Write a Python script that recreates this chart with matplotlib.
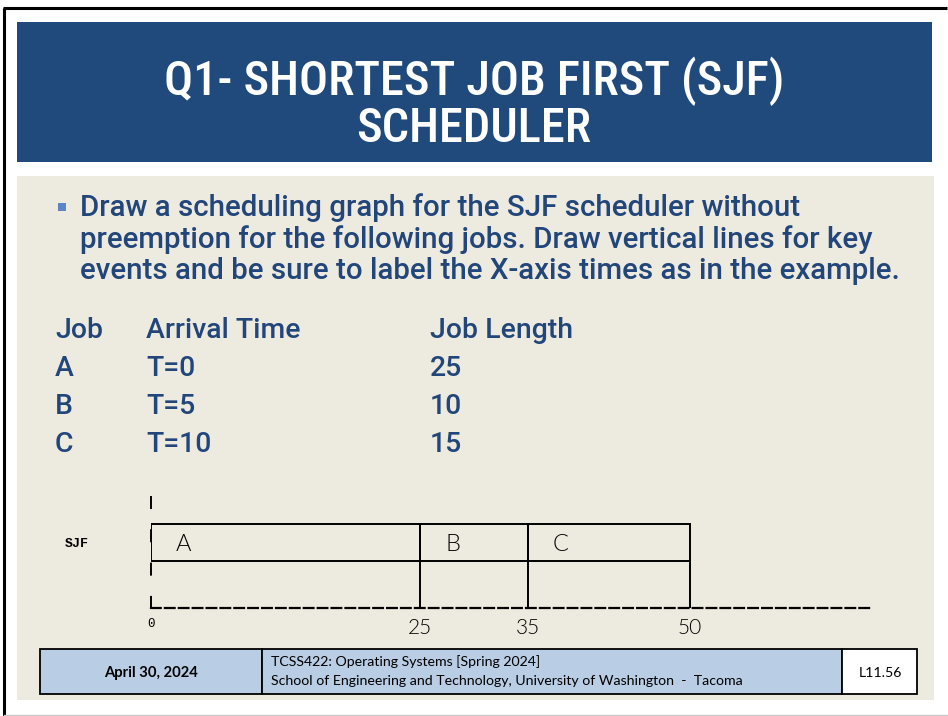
import matplotlib
matplotlib.use("Agg")
import matplotlib.pyplot as plt
from matplotlib import font_manager as fm
from matplotlib.patches import Rectangle
from matplotlib.lines import Line2D

plt.rcParams["lines.scale_dashes"] = False

# ---------------- data ----------------
title_lines = ["Q1- SHORTEST JOB FIRST (SJF)", "SCHEDULER"]
bullet_lines = [
    "Draw a scheduling graph for the SJF scheduler without",
    "preemption for the following jobs. Draw vertical lines for key",
    "events and be sure to label the X-axis times as in the example.",
]
table_header = ["Job", "Arrival Time", "Job Length"]
jobs = ["A", "B", "C"]
arrival_labels = ["T=0", "T=5", "T=10"]
job_lengths = [25, 10, 15]

sched_jobs = ["A", "B", "C"]
sched_start = [0, 25, 35]
sched_len = [25, 10, 15]
event_times = [25, 35, 50]
xtick_vals = [0, 25, 35, 50]
xtick_labels = ["0", "25", "35", "50"]
row_label = "SJF"

footer_date = "April 30, 2024"
footer_course = ["TCSS422: Operating Systems [Spring 2024]",
                 "School of Engineering and Technology, University of Washington  -  Tacoma"]
footer_slide = "L11.56"

# ---------------- styling ----------------
W, H = 948, 716
BLUE = "#214A7C"
TEXT_BLUE = "#22467A"
BEIGE = "#EDEAE0"
FOOT_BLUE = "#B9CDE5"

WNUM = {"thin": 100, "extralight": 200, "ultralight": 200, "light": 300, "normal": 400,
        "regular": 400, "book": 400, "medium": 500, "semibold": 600, "demibold": 600,
        "bold": 700, "extrabold": 800, "heavy": 900, "black": 900}


def wnum(w):
    if isinstance(w, (int, float)):
        return w
    return WNUM.get(str(w).lower(), 400)


def find_font(names, weight=400, stretches=None, tol=60):
    for name in names:
        best, bestd = None, None
        for f in fm.fontManager.ttflist:
            if f.name != name or f.style != "normal":
                continue
            if stretches is not None and f.stretch not in stretches:
                continue
            d = abs(wnum(f.weight) - weight)
            if bestd is None or d < bestd:
                best, bestd = f.fname, d
        if best is not None and bestd <= tol:
            return best
    return None


title_font = (find_font(["Roboto Condensed", "Liberation Sans Narrow", "Open Sans Condensed",
                         "Noto Sans Condensed"], weight=500, tol=120)
              or find_font(["DejaVu Sans"], weight=400, stretches=["condensed", "semi-condensed"])
              or find_font(["Roboto", "Liberation Sans"], weight=500, tol=200))
body_font = (find_font(["Roboto"], weight=500, tol=40)
             or find_font(["Liberation Sans", "Roboto"], weight=700, tol=200))
reg_font = find_font(["Lato", "Open Sans", "Liberation Sans"], weight=400, tol=40)
reg_bold = find_font(["Lato", "Open Sans", "Liberation Sans"], weight=700, tol=40)
mono_font = find_font(["Liberation Mono", "DejaVu Sans Mono"], weight=400, tol=40)
mono_bold = find_font(["Liberation Mono", "DejaVu Sans Mono"], weight=700, tol=40)
hand_font = find_font(["Lato", "Open Sans", "DejaVu Sans"], weight=300, tol=120)


def fp(path, size, **kw):
    if path:
        return fm.FontProperties(fname=path, size=size, **kw)
    return fm.FontProperties(family="DejaVu Sans", size=size, **kw)


fig = plt.figure(figsize=(W / 100, H / 100), dpi=100)
fig.patch.set_facecolor("white")


def fx(x):
    return x / W


def fy(y):
    return 1 - y / H


def rect(x0, y0, x1, y1, z=1, **kw):
    fig.add_artist(Rectangle((fx(x0), fy(y1)), fx(x1) - fx(x0), fy(y0) - fy(y1),
                             transform=fig.transFigure, zorder=z, **kw))


def line(xs, ys, **kw):
    fig.add_artist(Line2D([fx(v) for v in xs], [fy(v) for v in ys],
                          transform=fig.transFigure, **kw))


# frame / boxes
line([3, 947], [8, 8], color="black", lw=2.2, solid_capstyle="butt")
line([4, 4], [8, 716], color="black", lw=2.2, solid_capstyle="butt")
line([4, 948], [714.5, 714.5], color="#C8C8C8", lw=1.0)
rect(17, 22, 932, 162, z=-2, facecolor=BLUE, edgecolor="none")
rect(17, 176, 934, 700, z=-2, facecolor=BEIGE, edgecolor="none")

fig.canvas.draw()
renderer = fig.canvas.get_renderer()


def fit(t, target):
    bb = t.get_window_extent(renderer=renderer)
    t.set_fontsize(t.get_fontsize() * target / bb.width)
    return t.get_fontsize()


# title
t1 = fig.text(fx(474), fy(95), title_lines[0], ha="center", va="baseline", color="white",
              fontproperties=fp(title_font, 30))
tsize = fit(t1, 622)
fig.text(fx(474), fy(142), title_lines[1], ha="center", va="baseline", color="white",
         fontproperties=fp(title_font, tsize))

# bullet
rect(58, 203, 66, 211, facecolor="#5A86C5", edgecolor="none")
bl = []
for i, s in enumerate(bullet_lines):
    bl.append(fig.text(fx(80), fy(216 + 31.5 * i), s, ha="left", va="baseline", color=TEXT_BLUE,
                       fontproperties=fp(body_font, 17)))
bsize = fit(bl[2], 820)
for t in bl:
    t.set_fontsize(bsize)

# table
col_x = [55, 146, 430]
row_base = [338, 376, 414, 452]
th = fig.text(fx(col_x[1]), fy(row_base[0]), table_header[1], ha="left", va="baseline",
              color=TEXT_BLUE, fontproperties=fp(body_font, bsize))
tabsize = fit(th, 154)
for k, (cx, s) in enumerate(zip(col_x, table_header)):
    if k == 1:
        continue
    fig.text(fx(cx), fy(row_base[0]), s, ha="left", va="baseline", color=TEXT_BLUE,
             fontproperties=fp(body_font, tabsize))
for r, (j, a, l) in enumerate(zip(jobs, arrival_labels, job_lengths)):
    for cx, s in zip(col_x, [j, a, str(l)]):
        fig.text(fx(cx), fy(row_base[r + 1]), s, ha="left", va="baseline", color=TEXT_BLUE,
                 fontproperties=fp(body_font, tabsize))

# ---------------- scheduling chart ----------------
ax = fig.add_axes([fx(151), fy(608), fx(873) - fx(151), fy(497) - fy(608)])
ax.set_zorder(2)
ax.set_facecolor("none")
ax.set_xlim(0, 67)
ax.set_ylim(0, 1)
bar_y, bar_h = 0.59, 0.33
ax.barh([bar_y] * len(sched_jobs), sched_len, left=sched_start, height=bar_h,
        facecolor="none", edgecolor="black", linewidth=1.4)
ax.vlines(event_times, 0, bar_y - bar_h / 2, color="black", linewidth=1.4)
for name, s in zip(sched_jobs, sched_start):
    ax.text(s + 2.3, bar_y - 0.02, name, ha="left", va="center",
            fontproperties=fp(hand_font, 17), color="black")

for side in ["top", "right"]:
    ax.spines[side].set_visible(False)
ax.spines["left"].set_linestyle((0, (8, 16)))
ax.spines["left"].set_linewidth(1.4)
ax.spines["bottom"].set_linestyle((0, (7, 3)))
ax.spines["bottom"].set_linewidth(1.6)
ax.tick_params(length=0)
ax.set_xticks(xtick_vals)
ax.set_xticklabels(xtick_labels)
ax.tick_params(axis="x", pad=7)
for i, lab in enumerate(ax.get_xticklabels()):
    if i == 0:
        lab.set_fontproperties(fp(mono_font, 9))
    else:
        lab.set_fontproperties(fp(hand_font, 15))
ax.set_yticks([bar_y])
ax.set_yticklabels([row_label])
for lab in ax.get_yticklabels():
    lab.set_fontproperties(fp(mono_bold, 9.5))
ax.tick_params(axis="y", pad=45)

# ---------------- footer ----------------
rect(40, 649, 262, 694, facecolor=FOOT_BLUE, edgecolor="black", lw=1.3)
rect(262, 649, 842, 694, facecolor=FOOT_BLUE, edgecolor="black", lw=1.3)
rect(842, 649, 917, 694, facecolor="white", edgecolor="black", lw=1.3)
td = fig.text(fx(151), fy(677), footer_date, ha="center", va="baseline", color="black",
              fontproperties=fp(reg_bold, 10))
fit(td, 94)
c1 = fig.text(fx(271), fy(666), footer_course[0], ha="left", va="baseline", color="black",
              fontproperties=fp(reg_font, 9))
c2 = fig.text(fx(271), fy(685), footer_course[1], ha="left", va="baseline", color="black",
              fontproperties=fp(reg_font, 9))
csize = fit(c2, 473)
c1.set_fontsize(csize)
fig.text(fx(880), fy(677), footer_slide, ha="center", va="baseline", color="black",
         fontproperties=fp(reg_font, csize))

fig.savefig("out.png", dpi=100, facecolor="white")
